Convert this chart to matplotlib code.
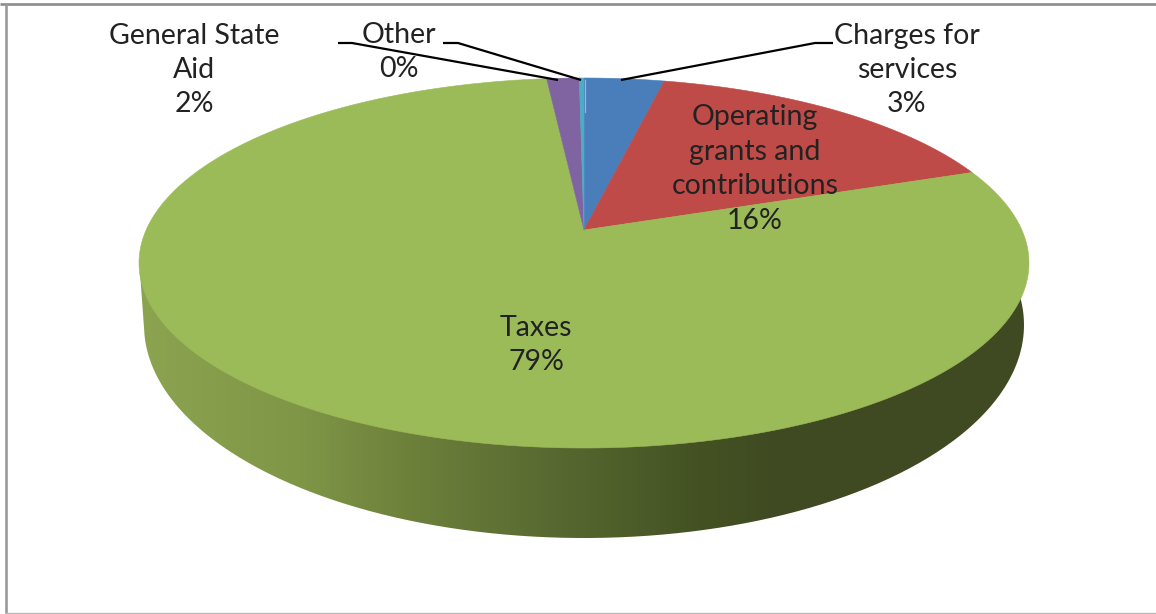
import numpy as np
import matplotlib
matplotlib.use("Agg")
import matplotlib.pyplot as plt
from matplotlib.colors import LinearSegmentedColormap
from matplotlib.patches import PathPatch
from matplotlib.path import Path

plt.rcParams['font.family'] = ['Lato', 'DejaVu Sans']

categories = ['Charges for\nservices', 'Operating\ngrants and\ncontributions', 'Taxes', 'General State\nAid', 'Other']
values = [3.45, 16.0, 78.85, 1.4, 0.2]
percent_labels = ['3%', '16%', '79%', '2%', '0%']
colors = ['#4A7EBB', '#BE4B48', '#9BBB59', '#8064A2', '#4BACC6']
label_pos = [(907, 70), (755, 169), (536, 345), (194, 70), (399, 52)]
leaders = [[(833, 43), (815, 43), (621, 80)], None, None,
           [(338, 43), (352, 43), (558, 80)], [(443, 43), (458, 43), (581, 80)]]

# geometry of the projected disc
CX, CY, A, B = 584, 263, 445, 185
APEX = (CY - 230) / B
LOW_CY, LOW_A, LOW_B = 325, 440, 213


def project(theta):
    u, v = np.sin(theta), np.cos(theta)
    d = 1 + APEX * v
    return (CX + A * u * np.sqrt(1 - APEX ** 2) / d,
            CY - B * (v + APEX) / d)


fig = plt.figure(figsize=(11.56, 6.14), dpi=100)
ax = fig.add_axes([0, 0, 1, 1])
ax.set_xlim(0, 1156)
ax.set_ylim(614, 0)
ax.axis('off')

# frame
ax.plot([0, 1156], [4, 4], color='#8C8C8C', lw=1.9, solid_capstyle='butt')
ax.plot([5.5, 5.5], [4, 613], color='#9A9A9A', lw=1.9, solid_capstyle='butt')
ax.plot([5, 1156], [613, 613], color='#B8B8B8', lw=1.0, solid_capstyle='butt')

# side wall with gradient
t = np.linspace(np.arcsin(0.02), np.pi - np.arcsin(-0.13), 300)
wall_x = CX - LOW_A * np.cos(t)
wall_y = LOW_CY + LOW_B * np.sin(t)
wall_x = np.r_[140, wall_x, 1028]
wall_y = np.r_[272, wall_y, 272]
wall = PathPatch(Path(np.c_[wall_x, wall_y]), fc='none', ec='none', transform=ax.transData)
ax.add_patch(wall)
stops = [(0.00, '#8CA350'), (0.18, '#7F9647'), (0.30, '#6E813B'), (0.46, '#586A31'),
         (0.63, '#445223'), (0.72, '#3F4A22'), (1.00, '#3F4A22')]
cmap = LinearSegmentedColormap.from_list('wall', stops)
im = ax.imshow(np.linspace(0, 1, 512)[None, :], cmap=cmap, extent=(139, 1027, 560, 260),
               aspect='auto', zorder=2)
im.set_clip_path(wall)
ax.set_xlim(0, 1156)
ax.set_ylim(614, 0)

# top face
edges = np.radians(np.r_[0, np.cumsum(values) / np.sum(values) * 100] * 3.6)
for start, end, color in zip(edges[:-1], edges[1:], colors):
    th = np.linspace(start, end, max(int(np.degrees(end - start) * 2), 4))
    x, y = project(th)
    ax.fill(np.r_[CX, x], np.r_[230, y], color=color, lw=0.4, zorder=3)

# light edge at the start of the first slice
ax.plot([CX + 1, CX + 1], [80, 112], color='#8FB7DC', lw=0.9, zorder=4)

# leader lines
for pts in leaders:
    if pts:
        xs, ys = zip(*pts)
        ax.plot(xs, ys, color='black', lw=1.6, zorder=5, solid_capstyle='butt')

# labels
for cat, pct, (x, y) in zip(categories, percent_labels, label_pos):
    ax.text(x, y, f'{cat}\n{pct}', ha='center', va='center', fontsize=20.5,
            color='#222222', linespacing=1.4, zorder=6)

fig.savefig('out.png', dpi=100)
